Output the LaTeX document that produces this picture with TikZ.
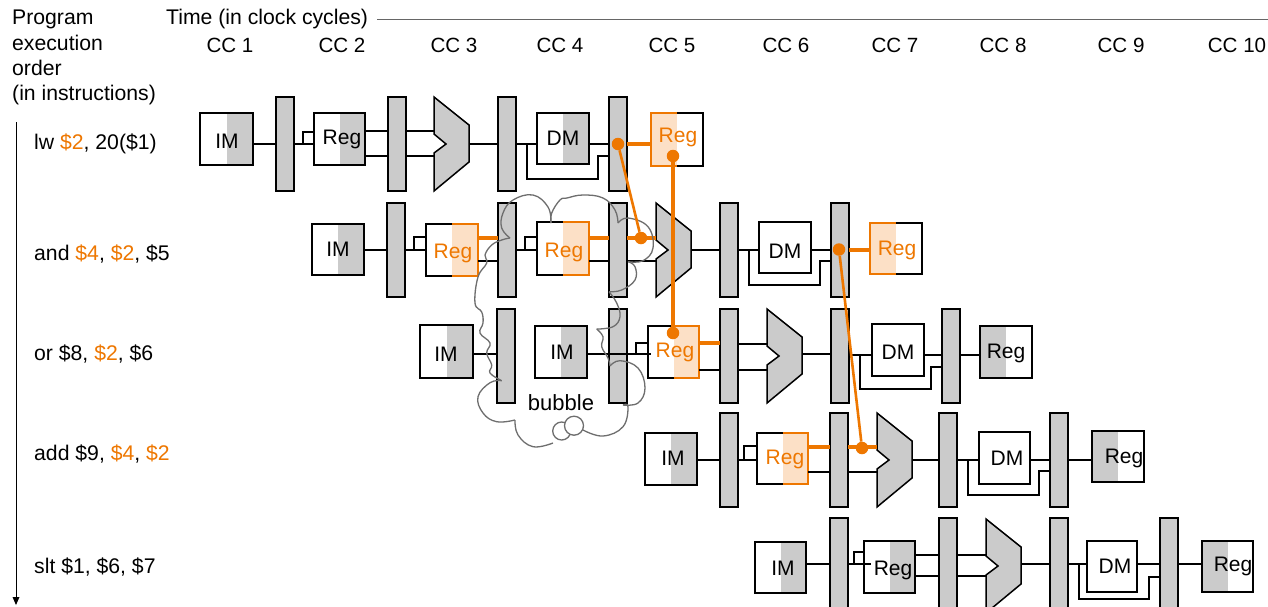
\documentclass[tikz,border=0pt]{standalone}
\usepackage{fontspec}
\setmainfont{Liberation Sans}
\definecolor{barg}{HTML}{CBCBCB}
\definecolor{hl}{HTML}{EE7700}
\definecolor{hllight}{HTML}{FCE0C6}
\definecolor{cloudg}{HTML}{6E6E6E}
\definecolor{timeg}{HTML}{666666}
\tikzset{
  unitnode/.style={inner sep=0pt,outer sep=0pt},
  barnode/.style={draw=black,fill=barg,line width=1.5pt,inner sep=0pt,outer sep=0pt,minimum width=18pt,minimum height=94pt},
  halfw/.style={draw=black,fill=white,line width=1.5pt},
  halfg/.style={draw=black,fill=barg,line width=1.5pt},
  halfo/.style={draw=hl,fill=hllight,line width=1.5pt},
  alushape/.style={draw=black,fill=barg,line width=1.5pt,line join=miter},
  wire/.style={draw=black,line width=1.4pt},
  hlwire/.style={draw=hl,line width=3.1pt},
  hldot/.style={circle,fill=hl,inner sep=0pt,minimum size=12.5pt},
  unitlabel/.style={font=\fontsize{21}{24}\selectfont,inner sep=0pt},
  txt/.style={font=\fontsize{21.2}{24}\selectfont,inner sep=0pt,anchor=base west},
  cctxt/.style={font=\fontsize{20.6}{24}\selectfont,inner sep=0pt,anchor=base},
  cloudline/.style={draw=cloudg,line width=1.3pt,smooth,tension=0.7},
}
% name x0 y0 x1 y1 left-style right-style: each half is filled, then outlined on three sides
\newcommand\unitbox[7]{%
  \pgfmathsetmacro\ucx{(#2+#4)/2}\pgfmathsetmacro\ucy{(#3+#5)/2}%
  \pgfmathsetmacro\uw{#4-#2}\pgfmathsetmacro\uh{#5-#3}%
  \node[unitnode,minimum width=\uw pt,minimum height=\uh pt] (#1) at (\ucx,\ucy) {};%
  \path[#6,draw=none] (#1.north west) rectangle (#1.south);%
  \path[#7,draw=none] (#1.north) rectangle (#1.south east);%
  \path[#6,fill=none] (#1.north) -| (#1.south west) -- (#1.south);%
  \path[#7,fill=none] (#1.north) -| (#1.south east) -- (#1.south);%
}
\newcommand\pbar[3]{\node[barnode] (#1) at (#2+9,#3+47) {};}
\newcommand\alu[3]{%
  \begin{scope}[shift={(#2,#3)}]
    \node[unitnode,minimum width=35pt,minimum height=94pt] (#1) at (17.5,47) {};
    \path[alushape] (0,0) -- (35,28) -- (35,65) -- (0,94) -- (0,56) -- (12,47) -- (0,37) -- cycle;
  \end{scope}%
}
% from a to b at height y
\newcommand\wire[4][wire]{\draw[#1] (#2.east |- 0,#4) -- (#3.west |- 0,#4);}
% branch out of bar a, up to the left side of box b
\newcommand\fork[4]{\draw[wire] ([xshift=9pt]#1.east |- 0,#3) |- (#2.west |- 0,#4);}
% feedback: out of a at y1, below at y2, into bar b at y3
\newcommand\feedback[5]{\draw[wire] ([xshift=11pt]#1.east |- 0,#3) |- ([xshift=-11pt]#2.west |- 0,#4) |- (#2.west |- 0,#5);}
\begin{document}
\begin{tikzpicture}[x=1pt,y=-1pt]
\clip (0,0) rectangle (1268,606);
\fill[white] (0,0) rectangle (1268,606);

% ---- row 1
\unitbox{aim}{200}{113}{253}{165}{halfw}{halfg}
\pbar{ab1}{276}{97}
\unitbox{areg}{314}{113}{365}{165}{halfw}{halfg}
\pbar{ab2}{388}{97}
\alu{aalu}{434}{97}
\pbar{ab3}{498}{97}
\unitbox{adm}{537}{113}{589}{164}{halfw}{halfg}
\pbar{ab4}{609}{97}
\unitbox{aw}{651}{113}{703}{166}{halfo}{halfw}

% ---- row 2
\unitbox{bim}{312}{224}{364}{275}{halfw}{halfg}
\pbar{bb1}{387}{203}
\unitbox{breg}{426}{224}{478}{276}{halfw}{halfo}
\pbar{bb2}{498}{203}
\unitbox{breg2}{537}{222}{589}{275}{halfw}{halfo}
\pbar{bb3}{609}{203}
\alu{balu}{656}{203}
\pbar{bb4}{720}{203}
\unitbox{bdm}{759}{222}{811}{273}{halfw}{halfw}
\pbar{bb5}{831}{203}
\unitbox{bw}{870}{223}{922}{274}{halfo}{halfw}

% ---- row 3
\unitbox{cim}{420}{325}{473}{378}{halfw}{halfg}
\pbar{cb1}{497}{309}
\unitbox{cim2}{535}{326}{587}{378}{halfw}{halfg}
\pbar{cb2}{609}{309}
\unitbox{creg}{648}{326}{699}{378}{halfw}{halfo}
\pbar{cb3}{720}{309}
\alu{calu}{767}{309}
\pbar{cb4}{831}{309}
\unitbox{cdm}{872}{324}{924}{376}{halfw}{halfw}
\pbar{cb5}{942}{309}
\unitbox{cw}{980}{326}{1032}{378}{halfg}{halfw}

% ---- row 4
\unitbox{dim}{645}{433}{697}{485}{halfw}{halfg}
\pbar{db1}{720}{413}
\unitbox{dreg}{757}{433}{808}{484}{halfw}{halfo}
\pbar{db2}{830}{413}
\alu{dalu}{877}{413}
\pbar{db3}{939}{413}
\unitbox{ddm}{979}{432}{1030}{484}{halfw}{halfw}
\pbar{db4}{1050}{413}
\unitbox{dw}{1092}{431}{1144}{482}{halfg}{halfw}

% ---- row 5
\unitbox{eim}{755}{542}{806}{593}{halfw}{halfg}
\pbar{eb1}{830}{518}
\unitbox{ereg}{864}{541}{915}{593}{halfw}{halfg}
\pbar{eb2}{939}{518}
\alu{ealu}{986}{519}
\pbar{eb3}{1050}{518}
\unitbox{edm}{1087}{541}{1137}{592}{halfw}{halfw}
\pbar{eb4}{1160}{518}
\unitbox{ew}{1202}{541}{1253}{592}{halfg}{halfw}

% ---- wires row 1
\wire{aim}{ab1}{144}
\wire{ab1}{areg}{144}
\fork{ab1}{areg}{144}{132}
\wire{areg}{ab2}{131}
\wire{areg}{ab2}{156}
\wire{ab2}{aalu}{131}
\wire{ab2}{aalu}{156}
\wire{aalu}{ab3}{144}
\wire{ab3}{adm}{144}
\feedback{ab3}{ab4}{144}{179}{156}
\wire{adm}{ab4}{144}
\wire[hlwire]{ab4}{aw}{144}

% ---- wires row 2
\wire{bim}{bb1}{250}
\wire{bb1}{breg}{250}
\fork{bb1}{breg}{250}{237}
\wire[hlwire]{breg}{bb2}{238}
\wire{breg}{bb2}{261}
\wire{bb2}{breg2}{250}
\fork{bb2}{breg2}{250}{237}
\wire[hlwire]{breg2}{bb3}{238}
\wire{breg2}{bb3}{261}
\wire[hlwire]{bb3}{balu}{238}
\wire{bb3}{balu}{261}
\wire{balu}{bb4}{250}
\wire{bb4}{bdm}{250}
\feedback{bb4}{bb5}{250}{285}{261}
\wire{bdm}{bb5}{250}
\wire[hlwire]{bb5}{bw}{250}

% ---- wires row 3
\wire{cim}{cb1}{354}
\draw[wire] (cim2.east |- 0,354) -- ([xshift=3pt]creg.west |- 0,354);
\fork{cb2}{creg}{354}{343}
\wire[hlwire]{creg}{cb3}{343}
\wire{creg}{cb3}{370}
\wire{cb3}{calu}{344}
\wire{cb3}{calu}{370}
\wire{calu}{cb4}{354}
\wire{cb4}{cdm}{355}
\feedback{cb4}{cb5}{355}{389}{367}
\wire{cdm}{cb5}{355}
\wire{cb5}{cw}{355}

% ---- wires row 4
\wire{dim}{db1}{460}
\wire{db1}{dreg}{460}
\draw[wire] ([xshift=6pt]db1.east |- 0,460) |- (dreg.west |- 0,446);
\wire[hlwire]{dreg}{db2}{447}
\wire{dreg}{db2}{472}
\wire[hlwire]{db2}{dalu}{447}
\wire{db2}{dalu}{472}
\wire{dalu}{db3}{460}
\wire{db3}{ddm}{460}
\feedback{db3}{db4}{460}{495}{471}
\wire{ddm}{db4}{460}
\wire{db4}{dw}{460}

% ---- wires row 5
\wire{eim}{eb1}{564}
\draw[wire] (eb1.east |- 0,564) -- ([xshift=7pt]ereg.west |- 0,564);
\draw[wire] ([xshift=6pt]eb1.east |- 0,564) |- (ereg.west |- 0,552);
\wire{ereg}{eb2}{555}
\wire{ereg}{eb2}{576}
\wire{eb2}{ealu}{555}
\wire{eb2}{ealu}{576}
\wire{ealu}{eb3}{564}
\wire{eb3}{edm}{564}
\feedback{eb3}{eb4}{564}{599}{577}
\wire{edm}{eb4}{564}
\wire{eb4}{ew}{564}

% ---- bubble cloud
\draw[cloudline] plot coordinates {(510,238) (501.7,240) (491.7,245) (485,255) (486.7,263) (478,277) (475,303) (481.7,312) (483,323) (480,333) (490,343) (486.7,353) (491.7,365) (490,373) (501.7,380.7)};
\draw[cloudline] plot coordinates {(501.7,380.7) (490,382.7) (478,396.7) (483,413) (496.7,421.7) (515,420)};
\draw[cloudline] plot coordinates {(515,420) (518,435) (533,446.7) (553,443)};
\node[circle,draw=cloudg,line width=1.3pt,fill=white,minimum size=18pt,inner sep=0pt] (pufa) at (561.7,431) {};
\node[circle,draw=cloudg,line width=1.3pt,fill=white,minimum size=19pt,inner sep=0pt] (pufb) at (574,425.7) {};
\draw[cloudline] plot coordinates {(583,430) (603,436) (623,426.7) (628,406.7) (623,405)};
\draw[cloudline] plot coordinates {(623,405) (638,403) (645,388) (638,368) (620,360.7) (610,366)};
\draw[cloudline] plot coordinates {(610,366) (608,358) (601.7,346.7) (603,336.7) (596.7,329)};
\draw[cloudline] plot coordinates {(596.7,329) (613,326.7) (620,316.7) (616.7,303) (609,291.7)};
\draw[cloudline] plot coordinates {(609,291.7) (621.7,290) (635,280) (635,266.7) (628,261.7)};
\draw[cloudline] plot coordinates {(628,261.7) (643,260.7) (653,248) (648,226.7) (628,218) (618,223)};
\draw[cloudline] plot coordinates {(618,223) (615,210) (603,198) (583,195) (567,198) (560,200) (551.7,213) (551,223)};
\draw[cloudline] plot coordinates {(551,223) (548,207) (533,195) (513,200) (503,213) (501.7,228) (510,238)};

% ---- forwarding
\node[hldot] (fa) at (618,144) {};
\node[hldot] (fb) at (641,238) {};
\node[hldot] (fc) at (673,156) {};
\node[hldot] (fd) at (673,333) {};
\node[hldot] (fe) at (839,249.5) {};
\node[hldot] (ff) at (862,448) {};
\draw[hlwire,line width=2.6pt] (fa) -- (fb);
\draw[hlwire] (fc) -- (fd);
\draw[hlwire,line width=2.6pt] (fe) -- (ff);

% ---- box labels
\node[unitlabel] at (227,141) {IM};
\node[unitlabel] at (342,139) {Reg};
\node[unitlabel] at (563,138) {DM};
\node[unitlabel,text=hl] at (678,137) {Reg};
\node[unitlabel] at (338,249) {IM};
\node[unitlabel,text=hl] at (453,253) {Reg};
\node[unitlabel,text=hl] at (564,252) {Reg};
\node[unitlabel] at (785,251) {DM};
\node[unitlabel,text=hl] at (897,250) {Reg};
\node[unitlabel] at (446,354) {IM};
\node[unitlabel] at (562,352) {IM};
\node[unitlabel,text=hl] at (675,352) {Reg};
\node[unitlabel] at (898,352) {DM};
\node[unitlabel] at (1006,353) {Reg};
\node[unitlabel] at (673,458) {IM};
\node[unitlabel,text=hl] at (785,459) {Reg};
\node[unitlabel] at (1007,458) {DM};
\node[unitlabel] at (1124,458) {Reg};
\node[unitlabel] at (783,568) {IM};
\node[unitlabel] at (893,570) {Reg};
\node[unitlabel] at (1115,566) {DM};
\node[unitlabel] at (1233,566) {Reg};
\node[unitlabel,font=\fontsize{22}{24}\selectfont] at (561,403) {bubble};

% ---- headers
\node[txt] at (12,24) {Program};
\node[txt] at (12,50) {execution};
\node[txt] at (12,75) {order};
\node[txt] at (12,100) {(in instructions)};
\node[txt] (timelabel) at (166,24) {Time (in clock cycles)};
\coordinate (timeend) at (1268,19);
\draw[timeg,line width=1pt] ([xshift=9pt]timelabel.east |- timeend) -- (timeend);
\node[cctxt] at (230,52) {CC 1};
\node[cctxt] at (342,52) {CC 2};
\node[cctxt] at (454,52) {CC 3};
\node[cctxt] at (560,52) {CC 4};
\node[cctxt] at (672,52) {CC 5};
\node[cctxt] at (786,52) {CC 6};
\node[cctxt] at (895,52) {CC 7};
\node[cctxt] at (1003,52) {CC 8};
\node[cctxt] at (1121,52) {CC 9};
\node[cctxt] at (1237,52) {CC 10};

% ---- order arrow
\coordinate (orderstart) at (16,122);
\coordinate (orderend) at (16,605);
\fill[black] (12.5,597) -- (19.5,597) -- (orderend) -- cycle;
\draw[black,line width=1pt] (orderstart) -- (16,598);

% ---- instructions
\node[txt] at (34,149) {lw \textcolor{hl}{\$2}, 20(\$1)};
\node[txt] at (34,260) {and \textcolor{hl}{\$4}, \textcolor{hl}{\$2}, \$5};
\node[txt] at (34,360) {or \$8, \textcolor{hl}{\$2}, \$6};
\node[txt] at (34,460) {add \$9, \textcolor{hl}{\$4}, \textcolor{hl}{\$2}};
\node[txt] at (34,573) {slt \$1, \$6, \$7};
\end{tikzpicture}
\end{document}
